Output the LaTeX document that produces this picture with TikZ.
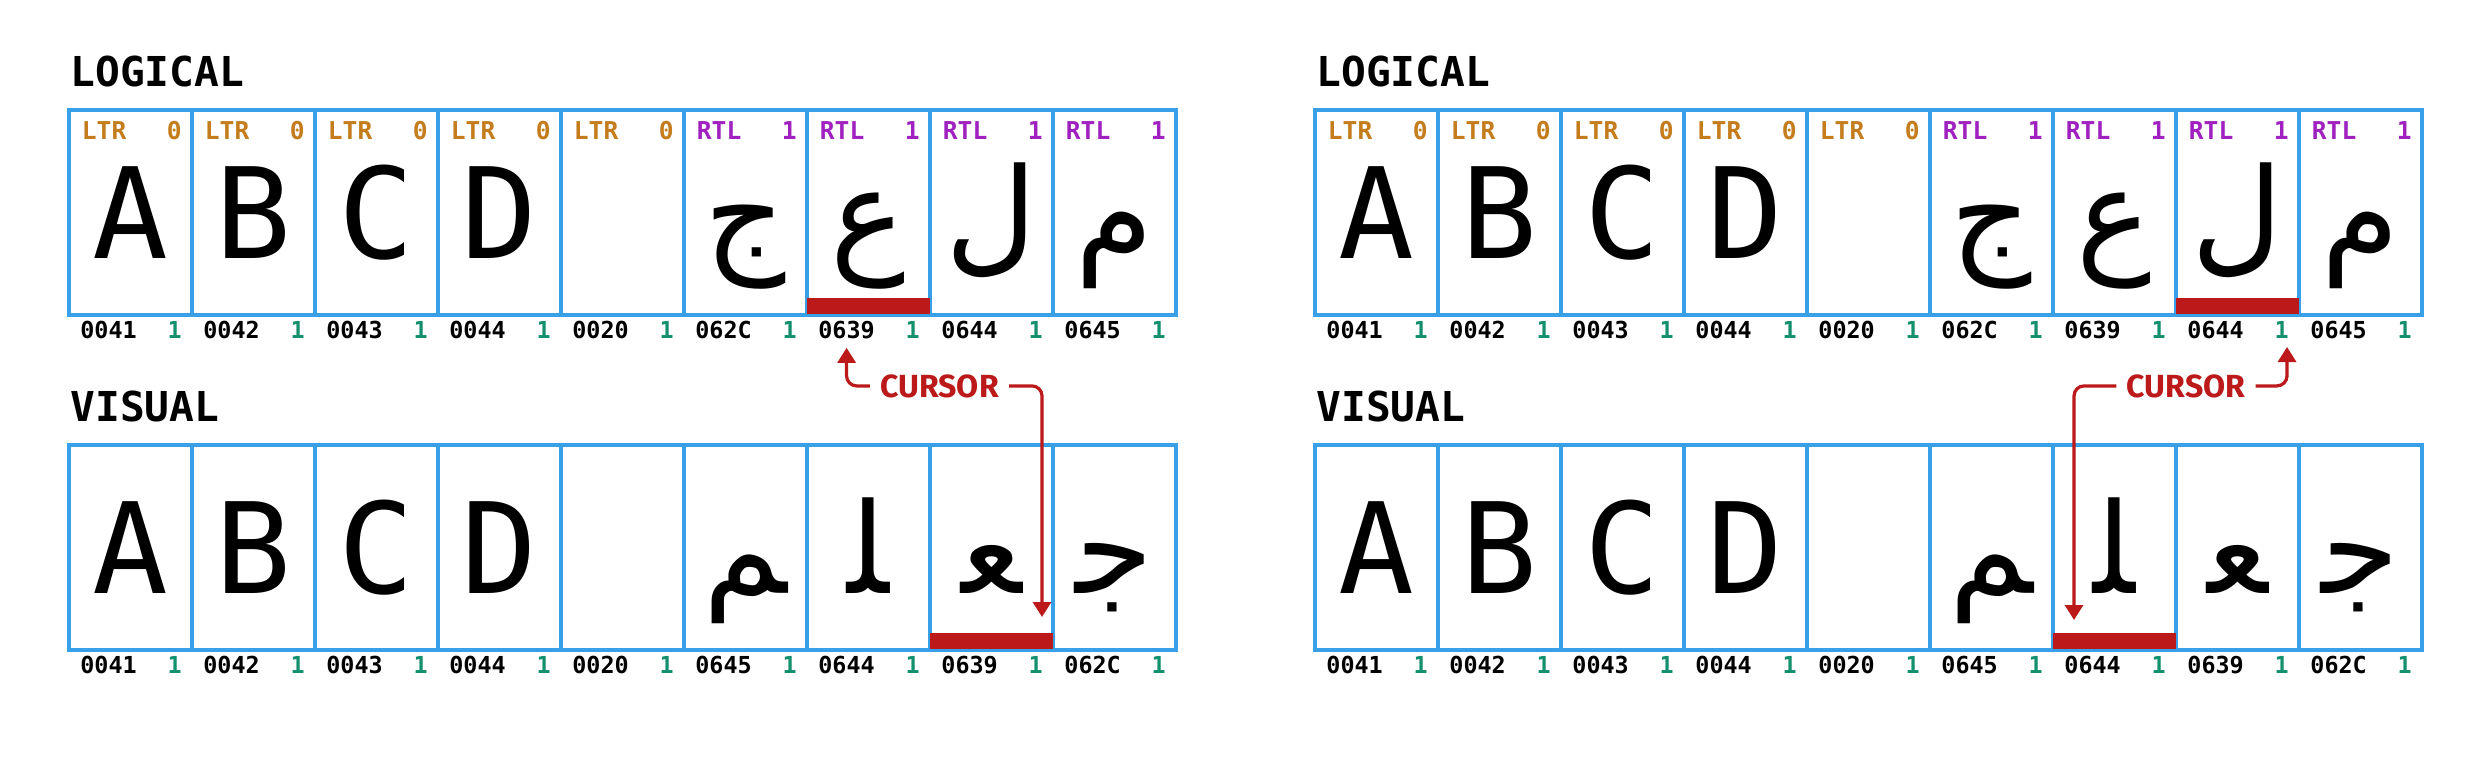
\documentclass[tikz,border=0pt]{standalone}
\usepackage{fontspec}
\setmonofont{DejaVu Sans Mono}
\newfontfamily\arabicfont[Script=Arabic]{DejaVu Sans}
\newfontfamily\cursorfont{Fira Sans}
\TeXXeTstate=1
\usetikzlibrary{
    positioning,
    calc,
    arrows.meta
}
\definecolor{cellblue}{RGB}{56,160,232}
\definecolor{ltrorange}{RGB}{196,124,28}
\definecolor{rtlpurple}{RGB}{160,32,192}
\definecolor{lengreen}{RGB}{20,144,110}
\definecolor{cursorred}{RGB}{188,26,26}
\tikzset{
  cell/.style = {
      draw=cellblue,
      line width=2pt,
      minimum width=61.5pt,
      minimum height=102.5pt,
      inner sep=0pt,
      outer sep=0pt
  },
  glyph/.style = {
      anchor=base,
      inner sep=0pt
  },
  heading/.style = {
      anchor=base west,
      inner sep=0pt,
      font=\ttfamily\bfseries\fontsize{20.6}{24}\selectfont
  },
  tag/.style = {
      inner sep=0pt,
      font=\ttfamily\bfseries\fontsize{12.3}{14}\selectfont
  },
  lvl0/.style = {
      tag,
      text=ltrorange
  },
  lvl1/.style = {
      tag,
      text=rtlpurple
  },
  code/.style = {
      inner sep=0pt,
      font=\ttfamily\bfseries\fontsize{11.7}{14}\selectfont
  },
  len/.style = {
      code,
      text=lengreen
  },
  cursor/.style = {
      anchor=base,
      inner xsep=5pt,
      inner ysep=0pt,
      text=cursorred,
      font=\cursorfont\bfseries\fontsize{16}{18}\selectfont
  },
  pointer/.style = {
      draw=cursorred,
      line width=1.6pt,
      rounded corners=5pt,
      -{Triangle[width=9pt,length=7.5pt]}
  },
  bar/.style = {
      fill=cursorred
  }
}

\begin{document}
\begin{tikzpicture}[x=0.5pt, y=-0.5pt]
    \useasboundingbox (0,0) rectangle (2492,764);
    \foreach \g/\x in {L/69, R/1315} {
      % Headings
      \node[heading] (head\g lg) at (\x+1, 86.5) {LOGICAL};
      \node[heading] (head\g vs) at (\x+1, 421.5) {VISUAL};
      % Logical row
      \coordinate (lg\g0) at (\x, 212.5);
      \foreach \ch/\cp/\lvl/\ff [count=\i] in {A/0041/0/\ttfamily, B/0042/0/\ttfamily,
          C/0043/0/\ttfamily, D/0044/0/\ttfamily, {}/0020/0/\ttfamily, ج/062C/1/\arabicfont,
          ع/0639/1/\arabicfont, ل/0644/1/\arabicfont, م/0645/1/\arabicfont} {
        \pgfmathtruncatemacro\j{\i-1}
        \node[cell, right=0pt of lg\g\j] (lg\g\i) {};
        \node[glyph, font=\ff\fontsize{63}{70}\selectfont] (lg\g\i ch) at ($(lg\g\i.center)+(0,46.5)$) {\ch};
        \node[lvl\lvl, anchor=base west] (lg\g\i dir) at ($(lg\g\i.north west)+(12.5,30)$) {\ifnum\lvl=0 LTR\else RTL\fi};
        \node[lvl\lvl, anchor=base east] (lg\g\i lvl) at ($(lg\g\i.north east)+(-10,30)$) {\lvl};
        \node[code, anchor=base west] (lg\g\i cp) at ($(lg\g\i.south west)+(11,24)$) {\cp};
        \node[len, anchor=base east] (lg\g\i len) at ($(lg\g\i.south east)+(-10,24)$) {1};
      }
      % Visual row
      \coordinate (vs\g0) at (\x, 547);
      \foreach \ch/\cp/\ff [count=\i] in {A/0041/\ttfamily, B/0042/\ttfamily,
          C/0043/\ttfamily, D/0044/\ttfamily, {}/0020/\ttfamily, ﻢ/0645/\arabicfont,
          ﻠ/0644/\arabicfont, ﻌ/0639/\arabicfont, ﺟ/062C/\arabicfont} {
        \pgfmathtruncatemacro\j{\i-1}
        \node[cell, right=0pt of vs\g\j] (vs\g\i) {};
        \node[glyph, font=\ff\fontsize{63}{70}\selectfont] (vs\g\i ch) at ($(vs\g\i.center)+(0,46)$) {\ch};
        \node[code, anchor=base west] (vs\g\i cp) at ($(vs\g\i.south west)+(11,24)$) {\cp};
        \node[len, anchor=base east] (vs\g\i len) at ($(vs\g\i.south east)+(-10,24)$) {1};
      }
    }
    % Cursor bars
    \fill[bar] ($(lgL7.south west)+(0,-1)$) rectangle ($(lgL7.south east)+(0,-17)$);
    \fill[bar] ($(vsL8.south west)+(0,-1)$) rectangle ($(vsL8.south east)+(0,-17)$);
    \fill[bar] ($(lgR8.south west)+(0,-1)$) rectangle ($(lgR8.south east)+(0,-17)$);
    \fill[bar] ($(vsR7.south west)+(0,-1)$) rectangle ($(vsR7.south east)+(0,-17)$);
    % Cursor labels
    \node[cursor] (curL) at (939.5, 397) {CURSOR};
    \node[cursor] (curR) at (2186, 397) {CURSOR};
    \coordinate (tipL) at (1042, 617);
    \coordinate (tipRup) at (2287, 347);
    \coordinate (tipRdn) at (2074, 620);
    % Edges
    \draw[pointer] (curL.west) -| ([yshift=-4pt]lgL7cp.south);
    \draw[pointer] (curL.east) -| (tipL);
    \draw[pointer] (curR.east) -| (tipRup);
    \draw[pointer] (curR.west) -| (tipRdn);
\end{tikzpicture}
\end{document}
